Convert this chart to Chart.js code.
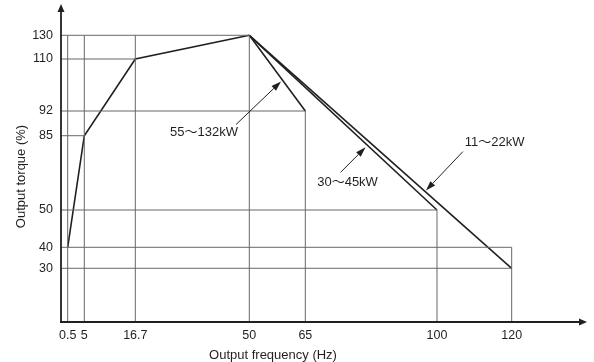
<!DOCTYPE html>
<html><head><meta charset="utf-8">
<script src="https://cdn.jsdelivr.net/npm/chart.js@4.4.1/dist/chart.umd.min.js"></script>
<style>html,body{margin:0;padding:0;background:#fff}</style>
</head><body><canvas id="c" width="594" height="362"></canvas>
<script>
// ---- data ----
const X_TICKS = [0.5, 5, 16.7, 50, 65, 100, 120];
const Y_TICKS = [30, 40, 50, 85, 92, 110, 130];
const BASE_FREQ = [0.5, 5, 16.7, 50];
const BASE_TORQUE = [40, 85, 110, 130];
const RANGE_LABELS = ['55～132kW', '30～45kW', '11～22kW'];
const RANGE_END_FREQ = [65, 100, 120];
const RANGE_END_TORQUE = [92, 50, 30];
const GRID_H_TORQUE = [130, 110, 92, 85, 50, 40, 30];
const GRID_H_TO_FREQ = [50, 16.7, 65, 5, 100, 120, 120];
const GRID_V_FREQ = [0.5, 5, 16.7, 50, 65, 100, 120];
const GRID_V_TO_TORQUE = [130, 130, 130, 130, 92, 50, 40];
const X_MAX = 140, Y_MAX = 140;

// schematic (non-uniform) axis spacing: value -> fraction of axis length
const SCALE_STOPS = {
  x: [[0,0],[0.5,0.0127],[5,0.0443],[16.7,0.1413],[50,0.358],[65,0.4645],[100,0.7148],[120,0.8568],[140,1]],
  y: [[0,0],[30,0.1689],[40,0.2349],[50,0.3522],[85,0.5858],[92,0.6635],[110,0.827],[130,0.9016],[140,1]]
};

class PiecewiseScale extends Chart.LinearScale {
  static id = 'piecewise';
  static defaults = Chart.LinearScale.defaults;
  _frac(v) {
    const s = SCALE_STOPS[this.id];
    if (v <= s[0][0]) return s[0][1];
    for (let i = 1; i < s.length; i++) {
      if (v <= s[i][0]) {
        const [a, fa] = s[i-1], [b, fb] = s[i];
        return fa + (v - a) / (b - a) * (fb - fa);
      }
    }
    const n = s.length;
    return s[n-1][1] + (v - s[n-1][0]) / (s[n-1][0] - s[n-2][0]) * (s[n-1][1] - s[n-2][1]);
  }
  getPixelForValue(v) { return this.getPixelForDecimal(this._frac(v)); }
  getValueForPixel(p) {
    const d = this.getDecimalForPixel(p);
    const s = SCALE_STOPS[this.id];
    for (let i = 1; i < s.length; i++) {
      if (d <= s[i][1]) {
        const [a, fa] = s[i-1], [b, fb] = s[i];
        return a + (d - fa) / (fb - fa) * (b - a);
      }
    }
    return s[s.length-1][0];
  }
}
Chart.register(PiecewiseScale);

const DARK = '#231f20', GRID = '#6b6566';
const FONT = '"Liberation Sans", Arial, Helvetica, "Noto Sans CJK JP", sans-serif';

function seg(points, color, width) {
  return { data: points, showLine: true, borderColor: color, borderWidth: width,
           pointRadius: 0, pointHoverRadius: 0, fill: false, tension: 0 };
}
const datasets = [];
GRID_H_TORQUE.forEach((y, i) => datasets.push(seg([{x:0, y}, {x:GRID_H_TO_FREQ[i], y}], GRID, 1)));
GRID_V_FREQ.forEach((x, i) => datasets.push(seg([{x, y:0}, {x, y:GRID_V_TO_TORQUE[i]}], GRID, 1)));
datasets.push(seg(BASE_FREQ.map((x, i) => ({x, y: BASE_TORQUE[i]})), DARK, 1.6));
const KNEE = {x: BASE_FREQ[BASE_FREQ.length-1], y: BASE_TORQUE[BASE_TORQUE.length-1]};
RANGE_END_FREQ.forEach((f, i) => datasets.push(seg([KNEE, {x:f, y:RANGE_END_TORQUE[i]}], DARK, 1.6)));

// annotation placement (fraction along each derating line, pixel offsets)
const ANNOTS = [
  {t:0.584, tip:[-1, 2],   tail:[-45, 43], text:[-32, 8]},
  {t:0.63,  tip:[-2, 2],   tail:[-25, 25], text:[7, 10]},
  {t:0.673, tip:[0, -1.5], tail:[37, -39], text:[31.7, -9]}
];

const decor = {
  id: 'decor',
  afterDraw(chart) {
    const ctx = chart.ctx, ca = chart.chartArea;
    const xs = chart.scales.x, ys = chart.scales.y;
    ctx.save();
    // axes with arrows
    ctx.strokeStyle = DARK; ctx.fillStyle = DARK; ctx.lineWidth = 1.8;
    ctx.beginPath();
    ctx.moveTo(ca.left - 1, ca.bottom); ctx.lineTo(ca.right - 4, ca.bottom);
    ctx.moveTo(ca.left, ca.bottom); ctx.lineTo(ca.left, ca.top + 4);
    ctx.stroke();
    ctx.beginPath();
    ctx.moveTo(ca.right, ca.bottom); ctx.lineTo(ca.right - 8, ca.bottom - 3.5); ctx.lineTo(ca.right - 8, ca.bottom + 3.5); ctx.closePath();
    ctx.moveTo(ca.left, ca.top); ctx.lineTo(ca.left - 3.5, ca.top + 8); ctx.lineTo(ca.left + 3.5, ca.top + 8); ctx.closePath();
    ctx.fill();

    // annotation arrows and labels
    ctx.font = '13px ' + FONT;
    ctx.textAlign = 'center'; ctx.textBaseline = 'middle';
    ctx.lineWidth = 1;
    RANGE_END_FREQ.forEach((f, i) => {
      const a = ANNOTS[i];
      const x0 = xs.getPixelForValue(KNEE.x), y0 = ys.getPixelForValue(KNEE.y);
      const x1 = xs.getPixelForValue(f), y1 = ys.getPixelForValue(RANGE_END_TORQUE[i]);
      const tx = x0 + (x1 - x0) * a.t + a.tip[0], ty = y0 + (y1 - y0) * a.t + a.tip[1];
      const sx = tx + a.tail[0], sy = ty + a.tail[1];
      const ang = Math.atan2(ty - sy, tx - sx);
      const L = 10, W = 3.2;
      const bx = tx - L * Math.cos(ang), by = ty - L * Math.sin(ang);
      ctx.beginPath(); ctx.moveTo(sx, sy); ctx.lineTo(bx, by); ctx.stroke();
      ctx.beginPath();
      ctx.moveTo(tx, ty);
      ctx.lineTo(bx + W * Math.sin(ang), by - W * Math.cos(ang));
      ctx.lineTo(bx - W * Math.sin(ang), by + W * Math.cos(ang));
      ctx.closePath(); ctx.fill();
      ctx.fillText(RANGE_LABELS[i], sx + a.text[0], sy + a.text[1]);
    });

    // axis titles
    ctx.font = '13px ' + FONT;
    ctx.fillText('Output frequency (Hz)', ca.left + 212, 355);
    ctx.translate(21, 176.5); ctx.rotate(-Math.PI / 2);
    ctx.fillText('Output torque (%)', 0, 0);
    ctx.restore();
  }
};

new Chart(document.getElementById('c'), {
  type: 'scatter',
  data: { datasets },
  options: {
    responsive: false, animation: false, events: [],
    layout: { padding: { top: 4, right: 7, left: 0, bottom: 0 } },
    plugins: { legend: { display: false }, tooltip: { enabled: false } },
    scales: {
      x: {
        type: 'piecewise', min: 0, max: X_MAX,
        grid: { display: false, drawTicks: false }, border: { display: false },
        afterBuildTicks: s => { s.ticks = X_TICKS.map(v => ({ value: v })); },
        afterFit: s => { s.height = 40; s.paddingLeft = 0; s.paddingRight = 0; },
        ticks: { autoSkip: false, maxRotation: 0, minRotation: 0, padding: 6,
                 color: DARK, font: { size: 12.5, family: FONT }, callback: v => String(v) }
      },
      y: {
        type: 'piecewise', min: 0, max: Y_MAX,
        grid: { display: false, drawTicks: false }, border: { display: false },
        afterBuildTicks: s => { s.ticks = Y_TICKS.map(v => ({ value: v })); },
        afterFit: s => { s.width = 61; s.paddingTop = 0; s.paddingBottom = 0; },
        ticks: { autoSkip: false, padding: 8,
                 color: DARK, font: { size: 12.5, family: FONT }, callback: v => String(v) }
      }
    }
  },
  plugins: [decor]
});
</script>
</body></html>
